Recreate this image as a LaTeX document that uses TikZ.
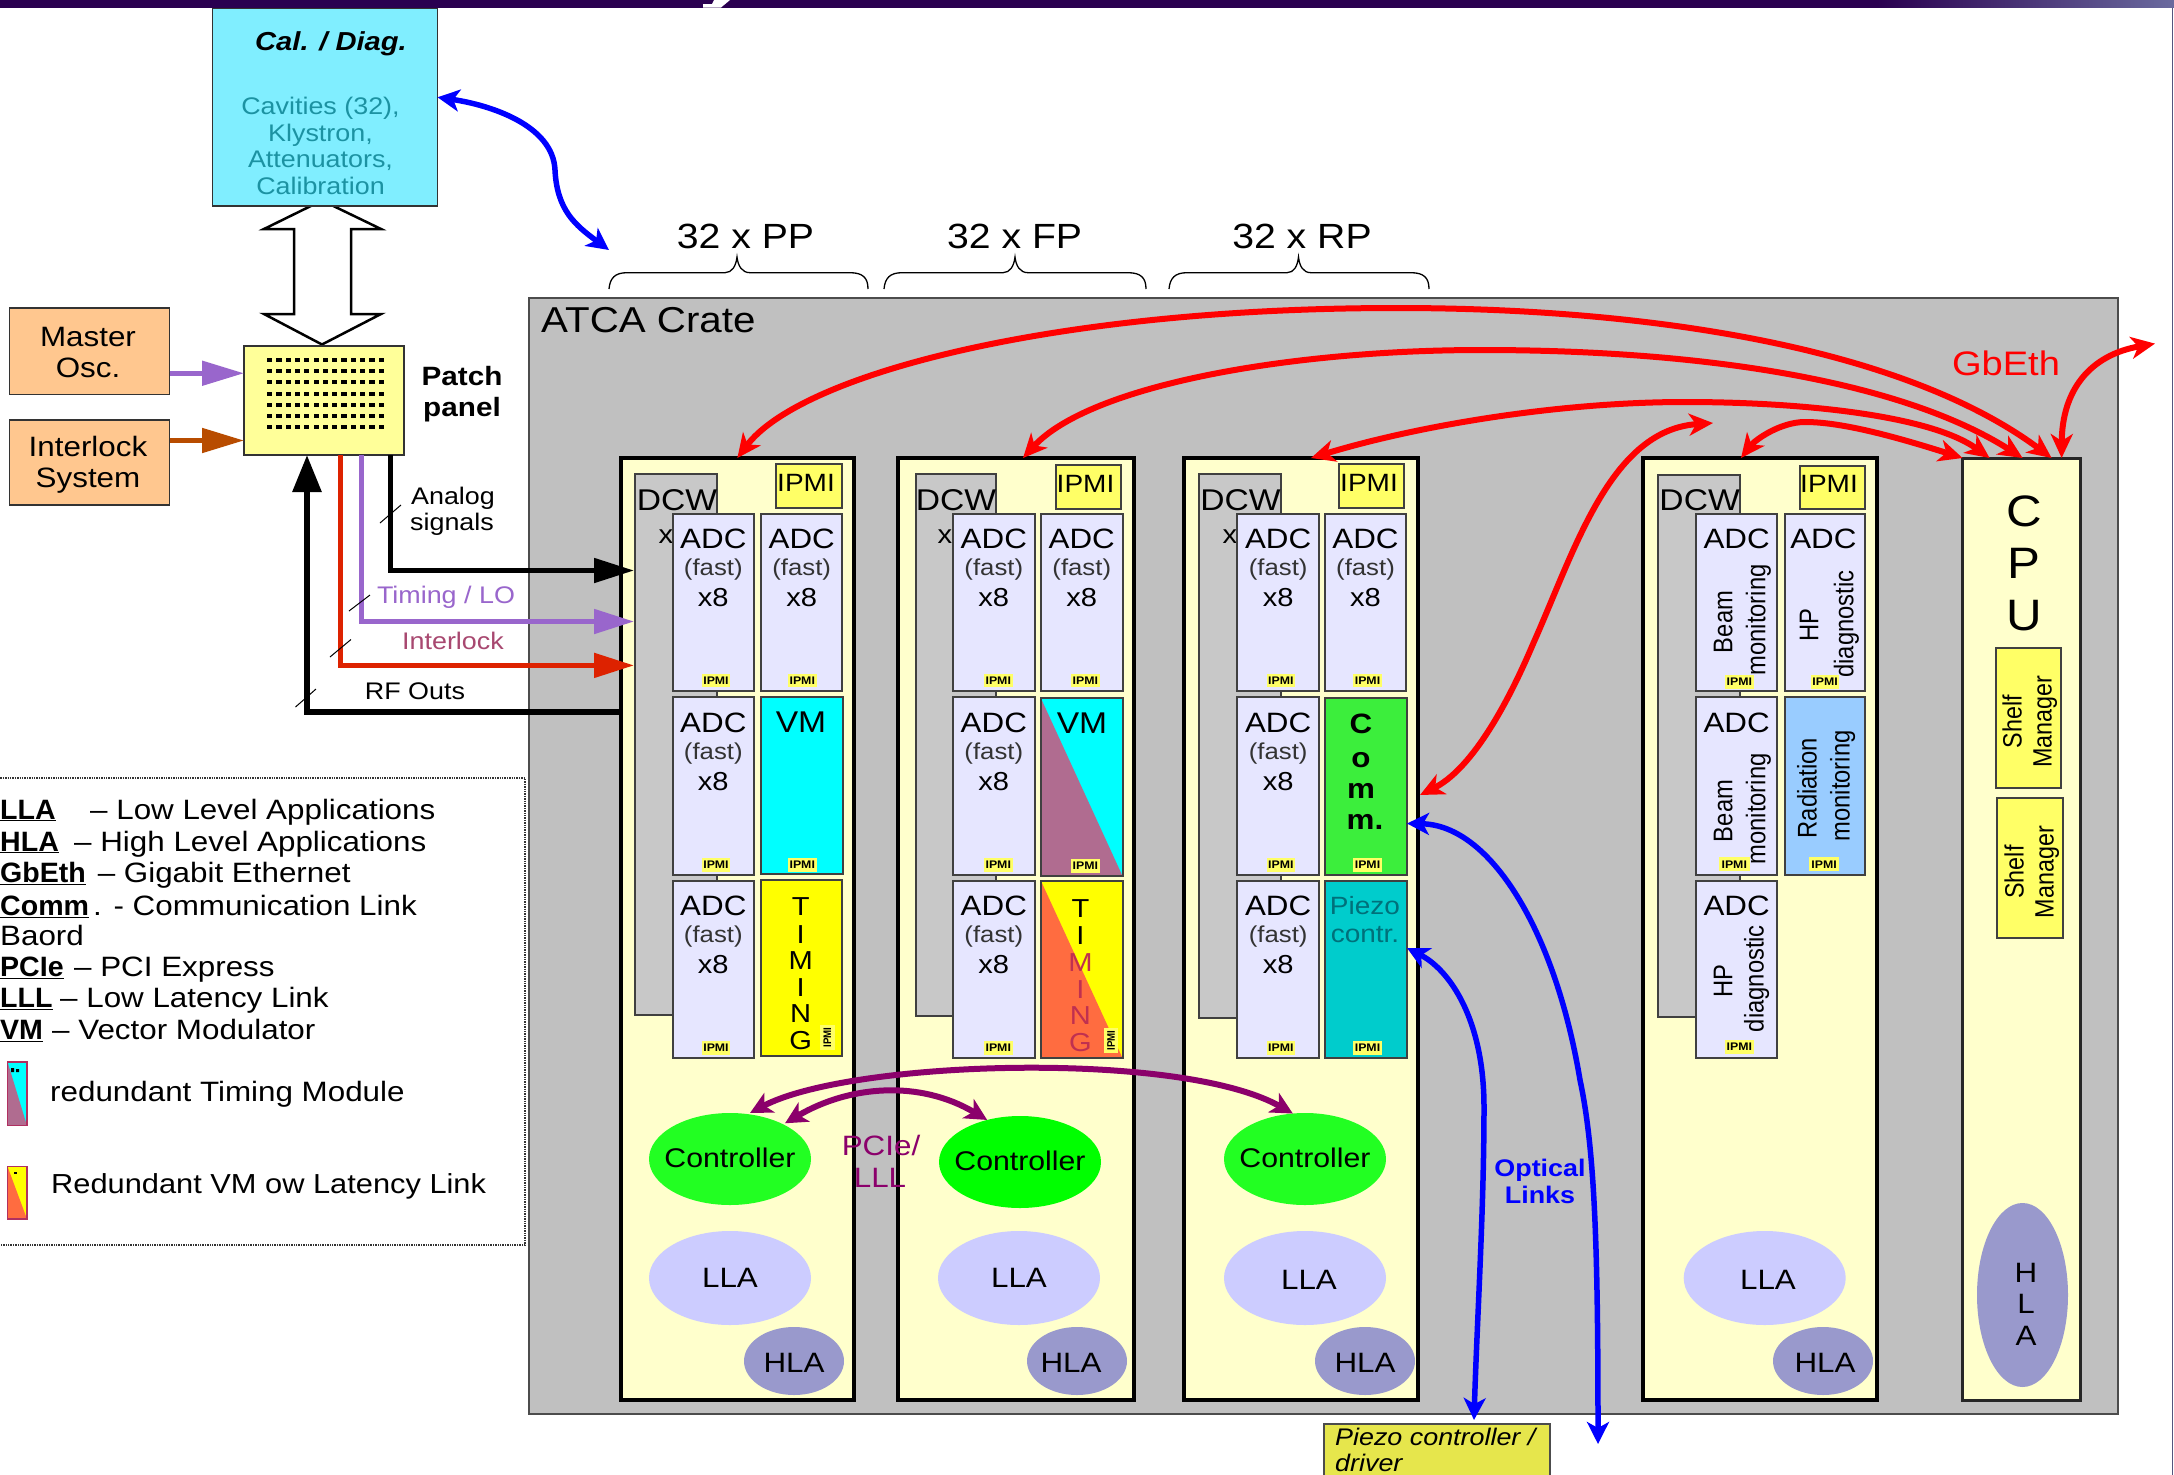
\documentclass[tikz,border=0pt]{standalone}
\usepackage{fontspec}
\setmainfont[FakeStretch=1.12]{Liberation Sans}
\newfontfamily\rotf[FakeStretch=0.88]{Liberation Sans}
\newfontfamily\legf[FakeStretch=1.02]{Liberation Sans}
\usetikzlibrary{arrows.meta,shapes.geometric,calc}
\definecolor{barc}{HTML}{2A0050}
\definecolor{barr}{HTML}{6A6A9E}
\definecolor{calc}{HTML}{80EEFF}
\definecolor{calt}{HTML}{1C92A2}
\definecolor{orangeb}{HTML}{FFC78F}
\definecolor{panelc}{HTML}{FFFF99}
\definecolor{slotc}{HTML}{FFFFCC}
\definecolor{cratec}{HTML}{C0C0C0}
\definecolor{dcwc}{HTML}{C8C8C8}
\definecolor{adcc}{HTML}{E6E6FF}
\definecolor{ipmic}{HTML}{FFFF66}
\definecolor{mauve}{HTML}{B06C90}
\definecolor{orangetm}{HTML}{FF6C40}
\definecolor{commc}{HTML}{3CEE3C}
\definecolor{piezoc}{HTML}{00CCCC}
\definecolor{radc}{HTML}{99CCFF}
\definecolor{llac}{HTML}{CCCCFF}
\definecolor{hlac}{HTML}{9999CC}
\definecolor{ctlc}{HTML}{22FF22}
\definecolor{ctld}{HTML}{00FF00}
\definecolor{cyanc}{HTML}{00FFFF}
\definecolor{yellowc}{HTML}{FFFF00}
\definecolor{purp}{HTML}{9966CC}
\definecolor{brownar}{HTML}{B84C00}
\definecolor{redar}{HTML}{DD2200}
\definecolor{interl}{HTML}{A84870}
\definecolor{magent}{HTML}{8B006B}
\definecolor{pdriver}{HTML}{E6E64C}
\definecolor{gbred}{HTML}{FF0000}
\definecolor{blueL}{HTML}{0000FF}
\definecolor{mixtxt}{HTML}{C03050}
\definecolor{piezot}{HTML}{00707A}
\definecolor{icob}{HTML}{B03060}
\tikzset{
 bxs/.style={draw=black!75,line width=2pt},
 slots/.style={draw=black,line width=4pt,fill=slotc},
 adcs/.style={bxs,fill=adcc},
 redarrow/.style={draw=gbred,line width=6pt,{Stealth[length=24pt,width=22pt,inset=7pt]}-{Stealth[length=24pt,width=22pt,inset=7pt]}},
 bluearrow/.style={draw=blueL,line width=5.5pt,{Stealth[length=22pt,width=22pt,inset=6pt]}-{Stealth[length=22pt,width=22pt,inset=6pt]}},
 magarrow/.style={draw=magent,line width=6pt,{Stealth[length=22pt,width=22pt,inset=6pt]}-{Stealth[length=22pt,width=22pt,inset=6pt]}},
 sigline/.style={line width=5pt,-{Triangle[length=40pt,width=24pt]}},
 tick/.style={draw=black,line width=1pt},
 bracec/.style={draw=black,line width=1.3pt},
 blob/.style={ellipse,inner sep=0pt,outer sep=0pt,draw=none},
}
\newcounter{tn}
\newcommand\T[5][]{\stepcounter{tn}\pgfmathsetmacro\tyy{#3+0.358*#4}%
 \node[anchor=base,inner sep=0pt,font=\fontsize{#4}{#4}\selectfont,#1] (t\arabic{tn}) at (#2,\tyy) {#5};}
\newcommand\R[5][]{\stepcounter{tn}\pgfmathsetmacro\txx{#2+0.358*#4}%
 \node[anchor=base,rotate=90,inner sep=0pt,font=\fontsize{#4}{#4}\selectfont\rotf,#1] (t\arabic{tn}) at (\txx,#3) {#5};}
\newcommand\bx[6][]{\pgfmathsetmacro\bxw{#5-#3}\pgfmathsetmacro\bxh{#6-#4}%
 \pgfmathsetmacro\bxx{(#3+#5)/2}\pgfmathsetmacro\bxy{(#4+#6)/2}%
 \node[rectangle,inner sep=0pt,outer sep=0pt,minimum width=\bxw pt,minimum height=\bxh pt,#1] (#2) at (\bxx,\bxy) {};}
\newcommand\bl[6][]{\node[blob,minimum width=#5 pt,minimum height=#6 pt,#1] (#2) at (#3,#4) {};}
\newcommand\tagb[4]{\stepcounter{tn}\bx[fill=ipmic]{g\arabic{tn}}{#1}{#2}{#3}{#4}%
 \pgfmathsetmacro\gx{(#1+#3)/2}\pgfmathsetmacro\gy{(#2+#4)/2}\T{\gx}{\gy}{11}{\textbf{IPMI}}}
\newcommand\tagr[4]{\stepcounter{tn}\bx[fill=ipmic]{g\arabic{tn}}{#1}{#2}{#3}{#4}%
 \pgfmathsetmacro\gx{(#1+#3)/2}\pgfmathsetmacro\gy{(#2+#4)/2}\R{\gx}{\gy}{11}{\textbf{IPMI}}}
% ADC (fast) x8 card: name x1 y1 x2 y2 tagx1 tagx2
\newcommand\adcf[7]{\bx[adcs]{#1}{#2}{#3}{#4}{#5}%
 \pgfmathsetmacro\acx{(#2+#4)/2}\pgfmathsetmacro\adj{ifthenelse(#3>690 && #3<700,1.5,0)}%
 \pgfmathsetmacro\aa{#3+24+\adj}\pgfmathsetmacro\ab{#3+53+\adj}\pgfmathsetmacro\ac{#3+83+\adj}%
 \pgfmathsetmacro\atg{#5-17}\pgfmathsetmacro\atb{#5-3.5}%
 \T{\acx}{\aa}{28}{ADC}\T{\acx}{\ab}{23}{\color{black!80}(fast)}\T{\acx}{\ac}{26}{x8}\tagb{#6}{\atg}{#7}{\atb}}
\begin{document}
\begin{tikzpicture}[x=1pt,y=-1pt]
\useasboundingbox (0,0) rectangle (2174,1475);
\fill[white] (0,0) rectangle (2174,1475);
% top bar
\fill[barc] (0,0) rectangle (1877,7.5);
\shade[left color=barc,right color=barr] (1877,0) rectangle (2174,7.5);
\fill[white] (714,0) -- (730,0) -- (721,7.5) -- (703,7.5) -- (703,4) -- (712,4) -- cycle;
\draw[barr!80!black,line width=1.2pt] (2172.5,7.5) -- (2172.5,1475);
% double arrow
\draw[black,line width=2.5pt,fill=white,line join=miter] (322,200.5) -- (381,229) -- (351,229) -- (351,314) -- (381,314) -- (322,344.5) -- (264,314) -- (294,314) -- (294,229) -- (264,229) -- cycle;
% Cal box
\bx[draw=black!80,line width=1.5pt,fill=calc]{cal}{212.5}{8.5}{437.5}{206}
\T[font=\fontsize{26}{26}\selectfont\bfseries\itshape]{331}{41.5}{26}{Cal. / Diag.}
\T[text=calt]{320.5}{105.7}{24}{Cavities (32),}
\T[text=calt]{320.5}{132.6}{24}{Klystron,}
\T[text=calt]{320.5}{159}{24}{Attenuators,}
\T[text=calt]{320.5}{185.5}{24}{Calibration}
% left boxes
\bx[draw=black!80,line width=1.5pt,fill=orangeb]{master}{9.5}{308}{169.5}{394.5}
\T{88}{336}{28}{Master}\T{88}{367}{28}{Osc.}
\bx[draw=black!80,line width=1.5pt,fill=orangeb]{ilock}{9.5}{420}{169.5}{505}
\T{88}{446}{28}{Interlock}\T{88}{477.5}{28}{System}
\bx[draw=black!80,line width=1.5pt,fill=panelc]{patch}{244}{346}{404}{455}
\foreach \r in {359.6,370.9,382.2,393.5,404.8,416.1,427.4}
 \foreach \c in {0,...,12}
  \fill[black] ({267+\c*9.3},\r-2) rectangle ++(5.2,4);
\T{462}{376}{26.5}{\textbf{Patch}}\T{462}{407}{26.5}{\textbf{panel}}
% crate
\bx[draw=black!70,line width=2pt,fill=cratec]{crate}{528.6}{298}{2118}{1414}
\T[anchor=base west]{541}{319.5}{36}{ATCA Crate}
% braces
\draw[bracec] (609,289) .. controls (610,278) and (615,272.7) .. (627,272.7) -- (725,272.7) .. controls (732,272.7) and (736,266) .. (737,257) .. controls (738,266) and (742,272.7) .. (750,272.7) -- (850,272.7) .. controls (863,272.7) and (868,278) .. (868,289);
\draw[bracec] (884,289) .. controls (885,278) and (890,272.7) .. (902,272.7) -- (1003,272.7) .. controls (1010,272.7) and (1014,266) .. (1015,257) .. controls (1016,266) and (1020,272.7) .. (1028,272.7) -- (1128,272.7) .. controls (1141,272.7) and (1146,278) .. (1146,289);
\draw[bracec] (1169,289) .. controls (1170,278) and (1175,272.7) .. (1187,272.7) -- (1287,272.7) .. controls (1294,272.7) and (1297.5,266) .. (1298.5,257) .. controls (1299.5,266) and (1303,272.7) .. (1311,272.7) -- (1411,272.7) .. controls (1424,272.7) and (1429,278) .. (1429,289);
\T{745.5}{236}{35}{32 x PP}\T{1014.6}{236}{35}{32 x FP}\T{1302}{236}{35}{32 x RP}
% signal labels
\T{453}{495.5}{24}{Analog}\T{452}{522}{24}{signals}
\T[text=purp]{446}{594.6}{24}{Timing / LO}
\T[text=interl]{453}{641}{24}{Interlock}
\T{415}{691}{24}{RF Outs}
% slots
\bx[slots]{slotA}{620.7}{458}{854}{1400}
\bx[slots]{slotB}{898}{458}{1134}{1400}
\bx[slots]{slotC}{1184}{458}{1418}{1400}
\bx[slots]{slotD}{1643}{458}{1877}{1400}
\bx[draw=black!85,line width=3pt,fill=slotc]{cpu}{1962.6}{458}{2080.6}{1400}
% --- slot A
\bx[bxs,fill=dcwc]{dcwA}{635}{474}{716.8}{1014.7}
\T{677}{500}{30}{DCW}\T{666}{534}{26}{x}
\bx[bxs,fill=ipmic]{ipA}{776}{464}{842}{508}\T{806}{483}{25}{IPMI}
\adcf{aA1}{673}{514}{753.6}{690.6}{702}{730}
\adcf{aA2}{673}{696.7}{753.6}{875}{702}{730}
\adcf{aA3}{673}{881}{753.6}{1058}{702}{730}
\adcf{aA4}{761.4}{514}{842}{690.6}{787.5}{817}
\bx[bxs,fill=cyanc]{vmA}{761.4}{697}{843}{873.5}
\T{801}{721.6}{30}{VM}\tagb{787.5}{858}{817}{872}
\bx[bxs,fill=yellowc]{tmA}{761.4}{879.6}{842}{1056}
\T{800.7}{906.5}{26}{T}\T{800.7}{934}{26}{I}\T{800.7}{960}{26}{M}\T{800.7}{987}{26}{I}\T{800.7}{1013.5}{26}{N}\T{800.7}{1040}{26}{G}
\tagr{819.6}{1024.5}{835}{1050}
% --- slot B
\bx[bxs,fill=dcwc]{dcwB}{916}{474}{996.4}{1016}
\T{956}{500}{30}{DCW}\T{945}{534}{26}{x}
\bx[bxs,fill=ipmic]{ipB}{1055.7}{465}{1121.4}{509.4}\T{1085.5}{484}{25}{IPMI}
\adcf{aB1}{953}{514}{1034.6}{690.6}{984}{1012.5}
\adcf{aB2}{953}{696.7}{1034.6}{875}{984}{1012.5}
\adcf{aB3}{953}{881}{1034.6}{1058}{984}{1012.5}
\adcf{aB4}{1041}{514}{1122.5}{690.6}{1070.7}{1100}
\bx[bxs,fill=cyanc]{vmB}{1041}{698.4}{1122.5}{876}
\fill[mauve] (vmB.north west) -- (vmB.south east) -- (vmB.south west) -- cycle;
\draw[bxs] (vmB.north west) rectangle (vmB.south east);
\T{1082}{723}{30}{VM}\tagb{1070.7}{859}{1100}{873}
\bx[bxs,fill=yellowc]{tmB}{1041}{881}{1122.5}{1058}
\fill[orangetm] (tmB.north west) -- (tmB.south east) -- (tmB.south west) -- cycle;
\draw[bxs] (tmB.north west) rectangle (tmB.south east);
\T{1080.5}{908}{26}{T}\T{1080.5}{935.5}{26}{I}\T[text=mixtxt]{1080.5}{962}{26}{M}\T[text=mixtxt]{1080.5}{989}{26}{I}\T[text=mixtxt]{1080.5}{1015.5}{26}{N}\T[text=mixtxt]{1080.5}{1042}{26}{G}
\tagr{1103.6}{1028}{1118}{1053}
% --- slot C
\bx[bxs,fill=dcwc]{dcwC}{1199}{474}{1280.7}{1018.4}
\T{1240.5}{500}{30}{DCW}\T{1230}{534}{26}{x}
\bx[bxs,fill=ipmic]{ipC}{1338.7}{464}{1404}{508}\T{1369}{483}{25}{IPMI}
\adcf{aC1}{1237.3}{514}{1319}{690.6}{1266.7}{1295}
\adcf{aC2}{1237.3}{696.7}{1319}{875}{1266.7}{1295}
\adcf{aC3}{1237.3}{881}{1319}{1058}{1266.7}{1295}
\adcf{aC4}{1325.3}{514}{1405.7}{690.6}{1353}{1382}
\bx[bxs,fill=commc]{comm}{1325.3}{698}{1407}{875}
\T{1361}{723.7}{28}{\textbf{C}}\T{1361}{757}{28}{\textbf{o}}\T{1361}{788}{28}{\textbf{m}}\T{1365}{819.6}{28}{\textbf{m.}}
\tagb{1353}{858}{1382}{872}
\bx[bxs,fill=piezoc]{piezo}{1325.3}{881}{1407}{1058}
\T[text=piezot]{1365}{906}{25}{Piezo}\T[text=piezot]{1365}{934}{25}{contr.}
\tagb{1353}{1041}{1382}{1055}
% --- slot D
\bx[bxs,fill=dcwc]{dcwD}{1658}{474.5}{1740}{1017.4}
\T{1699.6}{500}{30}{DCW}
\bx[bxs,fill=ipmic]{ipD}{1799.6}{466}{1865}{509.4}\T{1829}{484}{25}{IPMI}
\bx[adcs]{aD1}{1696}{513.8}{1777}{690.7}
\T{1736.6}{538.5}{28}{ADC}\R{1722.7}{622}{27}{Beam}\R{1755.7}{620}{27}{monitoring}\tagb{1724.5}{674.7}{1754}{689}
\bx[adcs]{aD2}{1696}{696.5}{1777}{875}
\T{1736.6}{722.7}{28}{ADC}\R{1722.7}{811}{27}{Beam}\R{1755.7}{809}{27}{monitoring}\tagb{1719}{857.4}{1749.5}{871}
\bx[adcs]{aD3}{1696}{881}{1777}{1057.6}
\T{1736.6}{905}{28}{ADC}\R{1722.7}{981}{27}{HP}\R{1754}{978.6}{27}{diagnostic}\tagb{1724.5}{1040}{1754}{1054}
\bx[adcs]{aD4}{1784.6}{513.8}{1865}{690.7}
\T{1823.4}{538.5}{28}{ADC}\R{1808.8}{625}{27}{HP}\R{1843.6}{624}{27}{diagnostic}\tagb{1811}{674.7}{1839}{689}
\bx[bxs,fill=radc]{radD}{1784.6}{696.5}{1865}{875}
\R{1807}{788}{27}{Radiation}\R{1840}{786}{27}{monitoring}\tagb{1809}{857.4}{1839}{871}
% --- CPU
\T{2024}{511}{44}{C}\T{2024}{563}{44}{P}\T{2024}{615}{44}{U}
\bx[bxs,fill=ipmic]{sm1}{1995.6}{648}{2061}{788}
\R{2012}{721.7}{26.5}{Shelf}\R{2042}{721.7}{26.5}{Manager}
\bx[bxs,fill=ipmic]{sm2}{1997.4}{798}{2063}{938}
\R{2014}{872}{26.5}{Shelf}\R{2044}{872}{26.5}{Manager}
% --- blobs
\bl[fill=ctlc]{ctlA}{730}{1159}{162}{92}\T{730}{1158}{27}{Controller}
\bl[fill=ctld]{ctlB}{1020}{1162}{162}{92}\T{1020}{1161}{27}{Controller}
\bl[fill=ctlc]{ctlC}{1305}{1159}{162}{92}\T{1305}{1158}{27}{Controller}
\bl[fill=llac]{llaA}{730}{1278}{162}{94}\T{730}{1277}{28}{LLA}
\bl[fill=llac]{llaB}{1019}{1278}{162}{94}\T{1019}{1277}{28}{LLA}
\bl[fill=llac]{llaC}{1305}{1278}{162}{94}\T{1309}{1279}{28}{LLA}
\bl[fill=llac]{llaD}{1764.7}{1278}{162}{94}\T{1768}{1279}{28}{LLA}
\bl[fill=hlac]{hlaA}{794}{1361}{100}{68}\T{794}{1362}{28}{HLA}
\bl[fill=hlac]{hlaB}{1077}{1361}{100}{68}\T{1071}{1362}{28}{HLA}
\bl[fill=hlac]{hlaC}{1365}{1361}{100}{68}\T{1365}{1362}{28}{HLA}
\bl[fill=hlac]{hlaD}{1823}{1361}{100}{68}\T{1825}{1362}{28}{HLA}
\bl[fill=hlac]{hlaE}{2022.5}{1295}{91}{184}
\T{2026}{1272}{28}{H}\T{2026}{1303}{28}{L}\T{2026}{1335}{28}{A}
% GbEth and other labels
\T[text=gbred]{2006}{363}{34}{GbEth}
\T[text=magent]{881}{1145}{28}{PCIe/}\T[text=magent]{880}{1177}{28}{LLL}
\T[text=blueL]{1540}{1168}{24}{\textbf{Optical}}\T[text=blueL]{1540}{1195}{24}{\textbf{Links}}
\bx[draw=black!70,line width=1.5pt,fill=pdriver]{pdrv}{1324}{1424}{1550}{1490}
\T[anchor=base west,font=\fontsize{24}{24}\selectfont\itshape]{1335}{1437}{24}{Piezo controller /}
\T[anchor=base west,font=\fontsize{24}{24}\selectfont\itshape]{1335}{1463}{24}{driver}
% free ends
\coordinate (calEnd) at (609,250);
\coordinate (commFree) at (1713,423);
\coordinate (gbOut) at (2155,343.6);
\coordinate (optA) at (1474,1420);
\coordinate (optB) at (1598,1444);
\coordinate (anaEnd) at (634,570.5);
\coordinate (timEnd) at (634,621.5);
\coordinate (intEnd) at (634,665.4);
% signals
\draw[sigline,draw=purp,-{Triangle[length=42pt,width=24pt,fill=purp]}] ([yshift=-22pt]master.east) -- ([yshift=-22pt]master.east -| patch.west);
\draw[sigline,draw=brownar,-{Triangle[length=42pt,width=24pt,fill=brownar]}] ([yshift=22pt]ilock.east) -- ([yshift=22pt]ilock.east -| patch.west);
\draw[sigline,draw=black] ([xshift=66.6pt]patch.south) |- (anaEnd);
\draw[sigline,draw=purp] ([xshift=37.6pt]patch.south) |- (timEnd);
\draw[sigline,draw=redar] ([xshift=16pt]patch.south) |- (intEnd);
\draw[line width=6pt,draw=black,-{Triangle[length=37pt,width=28pt]}] ([yshift=217.4pt,xshift=-1pt]slotA.west) -| ([xshift=-17pt]patch.south);
\draw[tick] (380,523) -- (401,505);
\draw[tick] (349,611) -- (370,595);
\draw[tick] (330,657) -- (351,639.5);
\draw[tick] (295.5,707) -- (316,689);
% blue
\draw[bluearrow] ([yshift=10pt]cal.east) .. controls (490,105) and (553,125) .. (555,170) .. controls (557,210) and (575,225) .. (calEnd);
\draw[bluearrow] ([yshift=21.5pt]piezo.east) .. controls (1450,970) and (1484,1020) .. (1484,1107) .. controls (1484,1210) and (1477,1320) .. (optA);
\draw[bluearrow] ([yshift=-37pt]comm.east) .. controls (1490,825) and (1555,930) .. (1580,1080) .. controls (1595,1150) and (1598,1250) .. (optB);
% red
\draw[redarrow] (slotA.north) .. controls (800,375) and (1050,308) .. (1397,308) .. controls (1640,308) and (1900,345) .. ([xshift=30pt]cpu.north);
\draw[redarrow] ([xshift=7pt]slotB.north) .. controls (1090,385) and (1290,350) .. (1482,350) .. controls (1700,350) and (1900,380) .. ([xshift=1pt]cpu.north);
\draw[redarrow] ([xshift=10pt]slotC.north) .. controls (1420,425) and (1560,402) .. (1685,402) .. controls (1800,402) and (1930,415) .. ([xshift=-32pt]cpu.north);
\draw[redarrow] ([yshift=134pt,xshift=2pt]slotC.east) .. controls (1470,770) and (1505,710) .. (1533,644) .. controls (1575,550) and (1610,430) .. (commFree);
\draw[redarrow] ([xshift=-19pt]slotD.north) .. controls (1755,440) and (1780,422) .. (1805,422) .. controls (1840,422) and (1890,435) .. (cpu.north west);
\draw[redarrow] ([xshift=40pt]cpu.north) .. controls (2062,390) and (2090,355) .. (gbOut);
% magenta
\draw[magarrow] ([xshift=20pt]ctlA.north) .. controls (850,1060) and (1180,1050) .. (ctlC.105);
\draw[magarrow] ([xshift=4pt]ctlA.35) .. controls (850,1085) and (920,1080) .. (ctlB.128);
% legend
\draw[black!80,line width=1.4pt,densely dotted] (-2,778) -- (525,778) -- (525,1245) -- (-2,1245);
\newcommand\legL[3]{\T[anchor=base west]{0}{#1}{28}{\legf\underline{\textbf{#2}}}#3}
\legL{809}{LLA}{\T[anchor=base west]{90}{809}{28}{– Low Level Applications}}
\legL{841}{HLA}{\T[anchor=base west]{74}{841}{28}{– High Level Applications}}
\legL{872}{GbEth}{\T[anchor=base west]{97.6}{872}{28}{– Gigabit Ethernet}}
\legL{905}{Comm}{\T[anchor=base west]{93}{905}{28}{. - Communication Link}}
\T[anchor=base west]{0}{935.7}{28}{Baord}
\legL{966.7}{PCIe}{\T[anchor=base west]{74}{966.7}{28}{– PCI Express}}
\legL{997.7}{LLL}{\T[anchor=base west]{60}{997.7}{28}{– Low Latency Link}}
\legL{1029.3}{VM}{\T[anchor=base west]{52}{1029.3}{28}{– Vector Modulator}}
\bx[fill=cyanc]{ico1}{7.6}{1062}{27}{1125.7}
\fill[mauve] (ico1.north west) -- (ico1.south east) -- (ico1.south west) -- cycle;
\draw[draw=icob,line width=1.2pt] (ico1.north west) rectangle (ico1.south east);
\fill[black] (11,1068) rectangle (14,1072) (16,1069) rectangle (19,1072);
\T[anchor=base west]{50}{1091.7}{28}{redundant Timing Module}
\bx[fill=yellowc]{ico2}{7.6}{1166.7}{27}{1219}
\fill[orangetm] (ico2.north west) -- (ico2.south east) -- (ico2.south west) -- cycle;
\draw[draw=icob,line width=1.2pt] (ico2.north west) rectangle (ico2.south east);
\fill[black] (14,1172) rectangle (17,1174);
\T[anchor=base west]{51}{1184}{27.5}{Redundant VM ow Latency Link}
\end{tikzpicture}
\end{document}
